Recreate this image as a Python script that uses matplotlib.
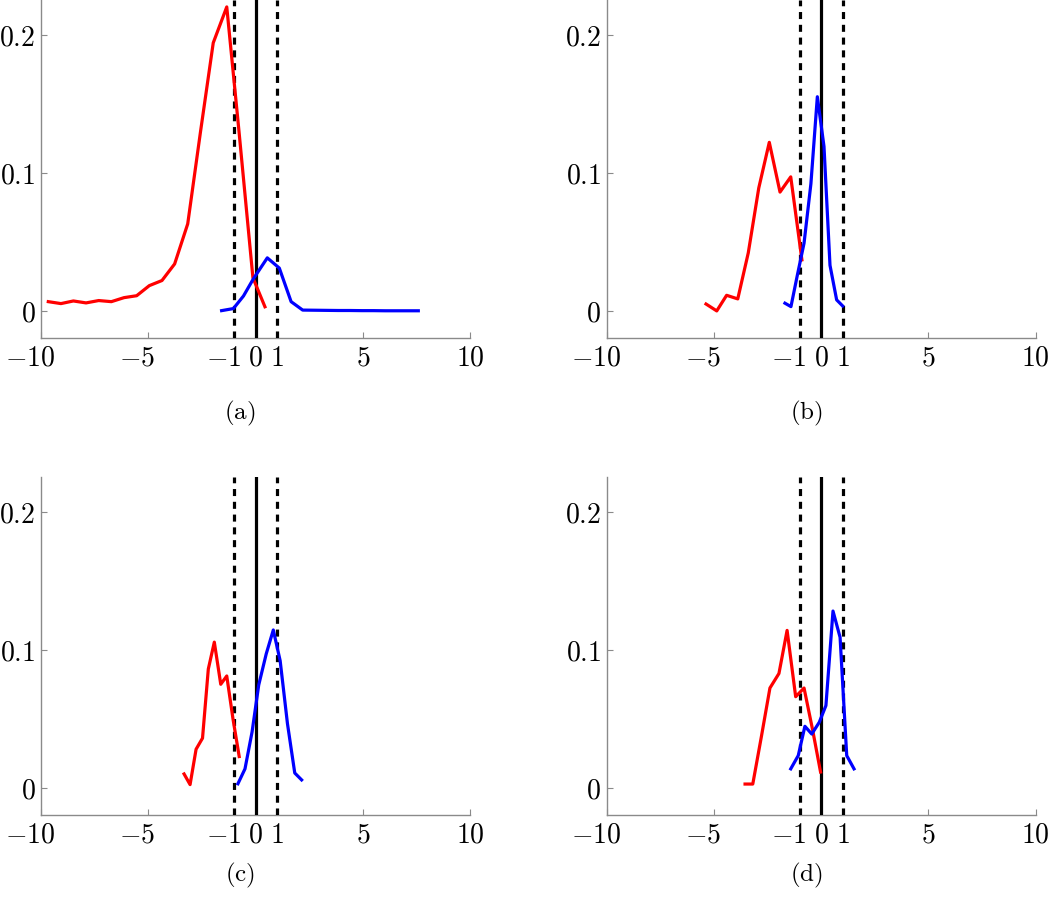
import matplotlib
matplotlib.use("Agg")
import matplotlib.pyplot as plt
import matplotlib.transforms as mtransforms

plt.rcParams['mathtext.fontset'] = 'cm'
plt.rcParams['font.family'] = 'serif'

# ---- data ----
red_a_x = [-9.66, -9.07, -8.49, -7.90, -7.31, -6.72, -6.13, -5.54, -4.95, -4.36,
           -3.77, -3.16, -2.57, -1.97, -1.34, -0.77, -0.12, 0.44]
red_a_y = [0.0067, 0.0053, 0.0072, 0.0058, 0.0075, 0.0067, 0.0096, 0.011, 0.0183, 0.022,
           0.034, 0.063, 0.129, 0.194, 0.220, 0.130, 0.024, 0.003]
blue_a_x = [-1.58, -1.03, -0.56, -0.10, 0.55, 1.11, 1.66, 2.20, 2.75, 3.30, 3.85,
            4.40, 4.95, 5.50, 6.05, 6.60, 7.15, 7.59]
blue_a_y = [0.0002, 0.0017, 0.0108, 0.0232, 0.0384, 0.031, 0.0067, 0.0006, 0.0005,
            0.0004, 0.0003, 0.0003, 0.0002, 0.0002, 0.0001, 0.0001, 0.0001, 0.0001]

red_b_x = [-5.37, -4.87, -4.41, -3.89, -3.40, -2.91, -2.42, -1.92, -1.42, -0.90]
red_b_y = [0.005, 0.0, 0.0113, 0.0087, 0.042, 0.089, 0.122, 0.086, 0.097, 0.037]
blue_b_x = [-1.69, -1.41, -1.11, -0.80, -0.48, -0.18, 0.13, 0.41, 0.72, 1.00]
blue_b_y = [0.0056, 0.0031, 0.026, 0.049, 0.092, 0.155, 0.119, 0.033, 0.008, 0.0036]

red_c_x = [-3.33, -3.05, -2.77, -2.47, -2.20, -1.92, -1.62, -1.34, -1.05, -0.76]
red_c_y = [0.0101, 0.0024, 0.028, 0.036, 0.086, 0.1055, 0.075, 0.081, 0.050, 0.0227]
blue_c_x = [-0.82, -0.49, -0.16, 0.15, 0.50, 0.83, 1.15, 1.49, 1.83, 2.15]
blue_c_y = [0.003, 0.0138, 0.0405, 0.0745, 0.097, 0.1143, 0.092, 0.0465, 0.0108, 0.0058]

red_d_x = [-3.55, -3.19, -2.79, -2.39, -1.97, -1.59, -1.19, -0.80, -0.40, -0.03]
red_d_y = [0.0028, 0.0028, 0.037, 0.0723, 0.0828, 0.114, 0.066, 0.0723, 0.042, 0.0115]
blue_d_x = [-1.42, -1.07, -0.76, -0.44, -0.09, 0.22, 0.55, 0.88, 1.19, 1.53]
blue_d_y = [0.0138, 0.0234, 0.0446, 0.039, 0.0475, 0.0596, 0.128, 0.109, 0.0234, 0.0138]

x_ticks = [-10, -5, -1, 0, 1, 5, 10]
x_tick_labels = [r'$-10$', r'$-5$', r'$-1$', r'$0$', r'$1$', r'$5$', r'$10$']
y_ticks = [0, 0.1, 0.2]
y_tick_labels = [r'$0$', r'$0.1$', r'$0.2$']
panel_labels = ['(a)', '(b)', '(c)', '(d)']

panels = [
    (red_a_x, red_a_y, blue_a_x, blue_a_y),
    (red_b_x, red_b_y, blue_b_x, blue_b_y),
    (red_c_x, red_c_y, blue_c_x, blue_c_y),
    (red_d_x, red_d_y, blue_d_x, blue_d_y),
]

W, H = 1050, 901
fig = plt.figure(figsize=(W / 100, H / 100), dpi=100)

# axes rectangles in pixels: left, top, width, height
rects = [(41, 0, 429, 338), (606.7, 0, 429, 338),
         (41, 477, 429, 338), (606.7, 477, 429, 338)]
label_pos = [(240, 413), (806, 413), (240, 875), (806, 875)]

TICK_FS = 20
gray = '#8a8a8a'
for i, (rx, ry, bx, by) in enumerate(panels):
    l, t, w, h = rects[i]
    ax = fig.add_axes([l / W, 1 - (t + h) / H, w / W, h / H])
    ax.set_xlim(-10, 10)
    ax.set_ylim(-0.0196, 0.225)
    for s in ['top', 'right']:
        ax.spines[s].set_visible(False)
    for s in ['left', 'bottom']:
        ax.spines[s].set_color(gray)
        ax.spines[s].set_linewidth(1.0)
    ax.axvline(0, color='black', lw=2.3, zorder=3)
    ax.axvline(-1, color='black', lw=2.3, linestyle=(0, (2.2, 1.8)), zorder=3)
    ax.axvline(1, color='black', lw=2.3, linestyle=(0, (2.2, 1.8)), zorder=3)
    ax.plot(rx, ry, color='#ff0000', lw=2.3, zorder=4)
    ax.plot(bx, by, color='#0000ff', lw=2.3, zorder=4)
    ax.set_xticks(x_ticks)
    ax.set_xticklabels(x_tick_labels)
    ax.set_yticks(y_ticks)
    ax.set_yticklabels(y_tick_labels)
    ax.tick_params(direction='in', length=4, width=0.8, color=gray,
                   labelsize=TICK_FS, labelcolor='black')
    ax.tick_params(axis='x', pad=5)
    ax.tick_params(axis='y', pad=4)
    # centre the digits of negative labels on the tick; minus hangs left
    shift = 0.778 * TICK_FS / 2 / 72.0
    for val, lab in zip(x_ticks, ax.get_xticklabels()):
        if val < 0:
            lab.set_transform(lab.get_transform() +
                              mtransforms.ScaledTranslation(-shift, 0, fig.dpi_scale_trans))
    lx, ly = label_pos[i]
    fig.text(lx / W, 1 - ly / H, r'$\mathrm{' + panel_labels[i] + '}$',
             ha='center', va='center', fontsize=18)

fig.savefig('out.png', dpi=100)
